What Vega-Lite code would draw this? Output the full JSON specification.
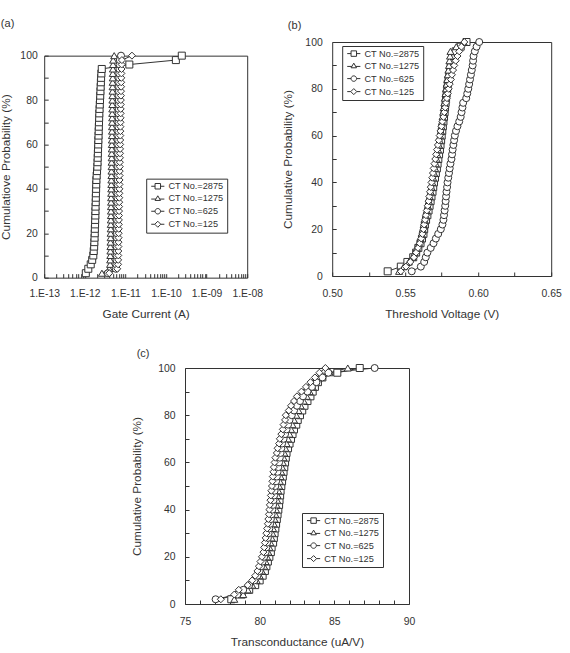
{
"$schema": "https://vega.github.io/schema/vega-lite/v6.json",
"padding": {"left": 0, "top": 17, "right": 0, "bottom": 0},
"background": "white",
"config": {
  "font": "Liberation Sans",
  "view": {"stroke": "#333", "strokeWidth": 1},
  "axis": {"domain": false, "grid": false, "tickColor": "#333", "tickSize": -4, "tickWidth": 1, "labelFontSize": 10.4, "labelColor": "#333", "titleFontSize": 11.8, "titleFontWeight": "normal", "titleColor": "#333", "labelFont": "Liberation Sans", "titleFont": "Liberation Sans", "labelOverlap": false, "labelFlush": false, "labelBound": false},
  "axisX": {"labelPadding": 15, "titlePadding": 9},
  "axisY": {"labelPadding": 11, "titlePadding": 8},
  "title": {"anchor": "start", "frame": "bounds", "fontSize": 11, "fontWeight": "normal", "color": "#333", "font": "Liberation Sans"},
  "legend": {"labelFontSize": 9.2, "labelColor": "#333", "labelFont": "Liberation Sans", "strokeColor": "#333", "fillColor": "white", "padding": 3, "rowPadding": 2, "symbolSize": 30, "symbolStrokeColor": "#333", "symbolStrokeWidth": 1, "symbolOffset": 4, "labelOffset": 6}
},
"datasets": {
"a": [
{"ct":2875,"y":2,"x":1.06e-12},{"ct":2875,"y":4,"x":1.22e-12},{"ct":2875,"y":6,"x":1.40e-12},{"ct":2875,"y":8,"x":1.52e-12},{"ct":2875,"y":10,"x":1.62e-12},{"ct":2875,"y":12,"x":1.66e-12},{"ct":2875,"y":14,"x":1.70e-12},{"ct":2875,"y":16,"x":1.72e-12},{"ct":2875,"y":18,"x":1.74e-12},{"ct":2875,"y":20,"x":1.76e-12},
{"ct":2875,"y":22,"x":1.77e-12},{"ct":2875,"y":24,"x":1.79e-12},{"ct":2875,"y":26,"x":1.80e-12},{"ct":2875,"y":28,"x":1.82e-12},{"ct":2875,"y":30,"x":1.83e-12},{"ct":2875,"y":32,"x":1.84e-12},{"ct":2875,"y":34,"x":1.86e-12},{"ct":2875,"y":36,"x":1.87e-12},{"ct":2875,"y":38,"x":1.88e-12},{"ct":2875,"y":40,"x":1.90e-12},
{"ct":2875,"y":42,"x":1.91e-12},{"ct":2875,"y":44,"x":1.93e-12},{"ct":2875,"y":46,"x":1.96e-12},{"ct":2875,"y":48,"x":2.00e-12},{"ct":2875,"y":50,"x":2.04e-12},{"ct":2875,"y":52,"x":2.06e-12},{"ct":2875,"y":54,"x":2.08e-12},{"ct":2875,"y":56,"x":2.10e-12},{"ct":2875,"y":58,"x":2.12e-12},{"ct":2875,"y":60,"x":2.14e-12},
{"ct":2875,"y":62,"x":2.16e-12},{"ct":2875,"y":64,"x":2.18e-12},{"ct":2875,"y":66,"x":2.20e-12},{"ct":2875,"y":68,"x":2.22e-12},{"ct":2875,"y":70,"x":2.24e-12},{"ct":2875,"y":72,"x":2.26e-12},{"ct":2875,"y":74,"x":2.28e-12},{"ct":2875,"y":76,"x":2.31e-12},{"ct":2875,"y":78,"x":2.34e-12},{"ct":2875,"y":80,"x":2.37e-12},
{"ct":2875,"y":82,"x":2.40e-12},{"ct":2875,"y":84,"x":2.43e-12},{"ct":2875,"y":86,"x":2.46e-12},{"ct":2875,"y":88,"x":2.49e-12},{"ct":2875,"y":90,"x":2.52e-12},{"ct":2875,"y":92,"x":2.56e-12},{"ct":2875,"y":94,"x":2.62e-12},{"ct":2875,"y":96,"x":1.25e-11},{"ct":2875,"y":98,"x":1.75e-10},{"ct":2875,"y":100,"x":2.45e-10},
{"ct":1275,"y":2,"x":2.64e-12},{"ct":1275,"y":4,"x":4.0e-12},{"ct":1275,"y":6,"x":4.20e-12},{"ct":1275,"y":8,"x":4.22e-12},{"ct":1275,"y":10,"x":4.25e-12},{"ct":1275,"y":12,"x":4.27e-12},{"ct":1275,"y":14,"x":4.28e-12},{"ct":1275,"y":16,"x":4.30e-12},{"ct":1275,"y":18,"x":4.32e-12},{"ct":1275,"y":20,"x":4.33e-12},
{"ct":1275,"y":22,"x":4.35e-12},{"ct":1275,"y":24,"x":4.36e-12},{"ct":1275,"y":26,"x":4.38e-12},{"ct":1275,"y":28,"x":4.40e-12},{"ct":1275,"y":30,"x":4.41e-12},{"ct":1275,"y":32,"x":4.42e-12},{"ct":1275,"y":34,"x":4.44e-12},{"ct":1275,"y":36,"x":4.45e-12},{"ct":1275,"y":38,"x":4.47e-12},{"ct":1275,"y":40,"x":4.48e-12},
{"ct":1275,"y":42,"x":4.50e-12},{"ct":1275,"y":44,"x":4.51e-12},{"ct":1275,"y":46,"x":4.53e-12},{"ct":1275,"y":48,"x":4.54e-12},{"ct":1275,"y":50,"x":4.56e-12},{"ct":1275,"y":52,"x":4.57e-12},{"ct":1275,"y":54,"x":4.59e-12},{"ct":1275,"y":56,"x":4.60e-12},{"ct":1275,"y":58,"x":4.62e-12},{"ct":1275,"y":60,"x":4.63e-12},
{"ct":1275,"y":62,"x":4.65e-12},{"ct":1275,"y":64,"x":4.66e-12},{"ct":1275,"y":66,"x":4.68e-12},{"ct":1275,"y":68,"x":4.69e-12},{"ct":1275,"y":70,"x":4.71e-12},{"ct":1275,"y":72,"x":4.72e-12},{"ct":1275,"y":74,"x":4.74e-12},{"ct":1275,"y":76,"x":4.75e-12},{"ct":1275,"y":78,"x":4.77e-12},{"ct":1275,"y":80,"x":4.78e-12},
{"ct":1275,"y":82,"x":4.80e-12},{"ct":1275,"y":84,"x":4.82e-12},{"ct":1275,"y":86,"x":4.84e-12},{"ct":1275,"y":88,"x":4.86e-12},{"ct":1275,"y":90,"x":4.88e-12},{"ct":1275,"y":92,"x":4.90e-12},{"ct":1275,"y":94,"x":4.93e-12},{"ct":1275,"y":96,"x":4.96e-12},{"ct":1275,"y":98,"x":5.00e-12},{"ct":1275,"y":100,"x":5.3e-12},
{"ct":625,"y":2,"x":3.7e-12},{"ct":625,"y":4,"x":5.8e-12},{"ct":625,"y":6,"x":6.00e-12},{"ct":625,"y":8,"x":6.03e-12},{"ct":625,"y":10,"x":6.06e-12},{"ct":625,"y":12,"x":6.08e-12},{"ct":625,"y":14,"x":6.10e-12},{"ct":625,"y":16,"x":6.13e-12},{"ct":625,"y":18,"x":6.15e-12},{"ct":625,"y":20,"x":6.17e-12},
{"ct":625,"y":22,"x":6.20e-12},{"ct":625,"y":24,"x":6.22e-12},{"ct":625,"y":26,"x":6.24e-12},{"ct":625,"y":28,"x":6.27e-12},{"ct":625,"y":30,"x":6.29e-12},{"ct":625,"y":32,"x":6.31e-12},{"ct":625,"y":34,"x":6.34e-12},{"ct":625,"y":36,"x":6.36e-12},{"ct":625,"y":38,"x":6.38e-12},{"ct":625,"y":40,"x":6.41e-12},
{"ct":625,"y":42,"x":6.43e-12},{"ct":625,"y":44,"x":6.45e-12},{"ct":625,"y":46,"x":6.48e-12},{"ct":625,"y":48,"x":6.50e-12},{"ct":625,"y":50,"x":6.52e-12},{"ct":625,"y":52,"x":6.55e-12},{"ct":625,"y":54,"x":6.57e-12},{"ct":625,"y":56,"x":6.59e-12},{"ct":625,"y":58,"x":6.62e-12},{"ct":625,"y":60,"x":6.64e-12},
{"ct":625,"y":62,"x":6.66e-12},{"ct":625,"y":64,"x":6.69e-12},{"ct":625,"y":66,"x":6.71e-12},{"ct":625,"y":68,"x":6.73e-12},{"ct":625,"y":70,"x":6.76e-12},{"ct":625,"y":72,"x":6.78e-12},{"ct":625,"y":74,"x":6.80e-12},{"ct":625,"y":76,"x":6.83e-12},{"ct":625,"y":78,"x":6.85e-12},{"ct":625,"y":80,"x":6.88e-12},
{"ct":625,"y":82,"x":6.91e-12},{"ct":625,"y":84,"x":6.94e-12},{"ct":625,"y":86,"x":6.97e-12},{"ct":625,"y":88,"x":7.00e-12},{"ct":625,"y":90,"x":7.04e-12},{"ct":625,"y":92,"x":7.08e-12},{"ct":625,"y":94,"x":7.13e-12},{"ct":625,"y":96,"x":7.20e-12},{"ct":625,"y":98,"x":7.30e-12},{"ct":625,"y":100,"x":7.8e-12},
{"ct":125,"y":2,"x":4.0e-12},{"ct":125,"y":4,"x":6.3e-12},{"ct":125,"y":6,"x":6.60e-12},{"ct":125,"y":8,"x":6.64e-12},{"ct":125,"y":10,"x":6.68e-12},{"ct":125,"y":12,"x":6.71e-12},{"ct":125,"y":14,"x":6.74e-12},{"ct":125,"y":16,"x":6.77e-12},{"ct":125,"y":18,"x":6.80e-12},{"ct":125,"y":20,"x":6.83e-12},
{"ct":125,"y":22,"x":6.86e-12},{"ct":125,"y":24,"x":6.89e-12},{"ct":125,"y":26,"x":6.92e-12},{"ct":125,"y":28,"x":6.95e-12},{"ct":125,"y":30,"x":6.98e-12},{"ct":125,"y":32,"x":7.01e-12},{"ct":125,"y":34,"x":7.04e-12},{"ct":125,"y":36,"x":7.07e-12},{"ct":125,"y":38,"x":7.10e-12},{"ct":125,"y":40,"x":7.13e-12},
{"ct":125,"y":42,"x":7.16e-12},{"ct":125,"y":44,"x":7.19e-12},{"ct":125,"y":46,"x":7.22e-12},{"ct":125,"y":48,"x":7.25e-12},{"ct":125,"y":50,"x":7.28e-12},{"ct":125,"y":52,"x":7.31e-12},{"ct":125,"y":54,"x":7.34e-12},{"ct":125,"y":56,"x":7.37e-12},{"ct":125,"y":58,"x":7.40e-12},{"ct":125,"y":60,"x":7.43e-12},
{"ct":125,"y":62,"x":7.46e-12},{"ct":125,"y":64,"x":7.49e-12},{"ct":125,"y":66,"x":7.52e-12},{"ct":125,"y":68,"x":7.55e-12},{"ct":125,"y":70,"x":7.58e-12},{"ct":125,"y":72,"x":7.61e-12},{"ct":125,"y":74,"x":7.64e-12},{"ct":125,"y":76,"x":7.67e-12},{"ct":125,"y":78,"x":7.70e-12},{"ct":125,"y":80,"x":7.73e-12},
{"ct":125,"y":82,"x":7.76e-12},{"ct":125,"y":84,"x":7.80e-12},{"ct":125,"y":86,"x":7.84e-12},{"ct":125,"y":88,"x":7.88e-12},{"ct":125,"y":90,"x":7.92e-12},{"ct":125,"y":92,"x":7.97e-12},{"ct":125,"y":94,"x":8.03e-12},{"ct":125,"y":96,"x":8.10e-12},{"ct":125,"y":98,"x":8.20e-12},{"ct":125,"y":100,"x":1.45e-11}
],
"b": [
{"ct":2875,"y":2,"x":0.538},{"ct":2875,"y":4,"x":0.547},{"ct":2875,"y":6,"x":0.5515},{"ct":2875,"y":8,"x":0.5555},{"ct":2875,"y":10,"x":0.5575},{"ct":2875,"y":12,"x":0.559},{"ct":2875,"y":14,"x":0.5605},{"ct":2875,"y":16,"x":0.5615},{"ct":2875,"y":18,"x":0.5625},{"ct":2875,"y":20,"x":0.563},
{"ct":2875,"y":22,"x":0.5635},{"ct":2875,"y":24,"x":0.5643},{"ct":2875,"y":26,"x":0.5652},{"ct":2875,"y":28,"x":0.566},{"ct":2875,"y":30,"x":0.5667},{"ct":2875,"y":32,"x":0.5674},{"ct":2875,"y":34,"x":0.568},{"ct":2875,"y":36,"x":0.5687},{"ct":2875,"y":38,"x":0.5692},{"ct":2875,"y":40,"x":0.5697},
{"ct":2875,"y":42,"x":0.5704},{"ct":2875,"y":44,"x":0.571},{"ct":2875,"y":46,"x":0.5717},{"ct":2875,"y":48,"x":0.5722},{"ct":2875,"y":50,"x":0.5727},{"ct":2875,"y":52,"x":0.5732},{"ct":2875,"y":54,"x":0.5738},{"ct":2875,"y":56,"x":0.5742},{"ct":2875,"y":58,"x":0.5746},{"ct":2875,"y":60,"x":0.575},
{"ct":2875,"y":62,"x":0.5754},{"ct":2875,"y":64,"x":0.5758},{"ct":2875,"y":66,"x":0.5762},{"ct":2875,"y":68,"x":0.5766},{"ct":2875,"y":70,"x":0.577},{"ct":2875,"y":72,"x":0.5773},{"ct":2875,"y":74,"x":0.5777},{"ct":2875,"y":76,"x":0.578},{"ct":2875,"y":78,"x":0.5784},{"ct":2875,"y":80,"x":0.5788},
{"ct":2875,"y":82,"x":0.5792},{"ct":2875,"y":84,"x":0.5797},{"ct":2875,"y":86,"x":0.5802},{"ct":2875,"y":88,"x":0.5807},{"ct":2875,"y":90,"x":0.5812},{"ct":2875,"y":92,"x":0.582},{"ct":2875,"y":94,"x":0.5828},{"ct":2875,"y":96,"x":0.5845},{"ct":2875,"y":98,"x":0.588},{"ct":2875,"y":100,"x":0.592},
{"ct":1275,"y":2,"x":0.5458},{"ct":1275,"y":4,"x":0.549},{"ct":1275,"y":6,"x":0.5525},{"ct":1275,"y":8,"x":0.555},{"ct":1275,"y":10,"x":0.5565},{"ct":1275,"y":12,"x":0.558},{"ct":1275,"y":14,"x":0.5595},{"ct":1275,"y":16,"x":0.5605},{"ct":1275,"y":18,"x":0.5613},{"ct":1275,"y":20,"x":0.562},
{"ct":1275,"y":22,"x":0.5627},{"ct":1275,"y":24,"x":0.5633},{"ct":1275,"y":26,"x":0.564},{"ct":1275,"y":28,"x":0.5648},{"ct":1275,"y":30,"x":0.5655},{"ct":1275,"y":32,"x":0.5662},{"ct":1275,"y":34,"x":0.5668},{"ct":1275,"y":36,"x":0.5675},{"ct":1275,"y":38,"x":0.568},{"ct":1275,"y":40,"x":0.5686},
{"ct":1275,"y":42,"x":0.5692},{"ct":1275,"y":44,"x":0.5698},{"ct":1275,"y":46,"x":0.5705},{"ct":1275,"y":48,"x":0.571},{"ct":1275,"y":50,"x":0.5715},{"ct":1275,"y":52,"x":0.572},{"ct":1275,"y":54,"x":0.5726},{"ct":1275,"y":56,"x":0.5731},{"ct":1275,"y":58,"x":0.5736},{"ct":1275,"y":60,"x":0.574},
{"ct":1275,"y":62,"x":0.5744},{"ct":1275,"y":64,"x":0.5748},{"ct":1275,"y":66,"x":0.5752},{"ct":1275,"y":68,"x":0.5756},{"ct":1275,"y":70,"x":0.576},{"ct":1275,"y":72,"x":0.5764},{"ct":1275,"y":74,"x":0.5768},{"ct":1275,"y":76,"x":0.5772},{"ct":1275,"y":78,"x":0.5776},{"ct":1275,"y":80,"x":0.578},
{"ct":1275,"y":82,"x":0.5784},{"ct":1275,"y":84,"x":0.5788},{"ct":1275,"y":86,"x":0.5792},{"ct":1275,"y":88,"x":0.5796},{"ct":1275,"y":90,"x":0.58},{"ct":1275,"y":92,"x":0.5803},{"ct":1275,"y":94,"x":0.5807},{"ct":1275,"y":96,"x":0.581},{"ct":1275,"y":98,"x":0.585},{"ct":1275,"y":100,"x":0.590},
{"ct":625,"y":2,"x":0.5545},{"ct":625,"y":4,"x":0.5607},{"ct":625,"y":6,"x":0.563},{"ct":625,"y":8,"x":0.5641},{"ct":625,"y":10,"x":0.5652},{"ct":625,"y":12,"x":0.5675},{"ct":625,"y":14,"x":0.5694},{"ct":625,"y":16,"x":0.571},{"ct":625,"y":18,"x":0.5726},{"ct":625,"y":20,"x":0.5744},
{"ct":625,"y":22,"x":0.5755},{"ct":625,"y":24,"x":0.5762},{"ct":625,"y":26,"x":0.5766},{"ct":625,"y":28,"x":0.577},{"ct":625,"y":30,"x":0.5774},{"ct":625,"y":32,"x":0.5777},{"ct":625,"y":34,"x":0.578},{"ct":625,"y":36,"x":0.5783},{"ct":625,"y":38,"x":0.5787},{"ct":625,"y":40,"x":0.579},
{"ct":625,"y":42,"x":0.5795},{"ct":625,"y":44,"x":0.58},{"ct":625,"y":46,"x":0.5805},{"ct":625,"y":48,"x":0.581},{"ct":625,"y":50,"x":0.5817},{"ct":625,"y":52,"x":0.5821},{"ct":625,"y":54,"x":0.5825},{"ct":625,"y":56,"x":0.583},{"ct":625,"y":58,"x":0.5835},{"ct":625,"y":60,"x":0.584},
{"ct":625,"y":62,"x":0.5848},{"ct":625,"y":64,"x":0.5858},{"ct":625,"y":66,"x":0.587},{"ct":625,"y":68,"x":0.588},{"ct":625,"y":70,"x":0.5886},{"ct":625,"y":72,"x":0.5892},{"ct":625,"y":74,"x":0.5897},{"ct":625,"y":76,"x":0.5918},{"ct":625,"y":78,"x":0.5925},{"ct":625,"y":80,"x":0.5932},
{"ct":625,"y":82,"x":0.5938},{"ct":625,"y":84,"x":0.5944},{"ct":625,"y":86,"x":0.595},{"ct":625,"y":88,"x":0.5956},{"ct":625,"y":90,"x":0.5962},{"ct":625,"y":92,"x":0.5965},{"ct":625,"y":94,"x":0.5968},{"ct":625,"y":96,"x":0.5977},{"ct":625,"y":98,"x":0.5989},{"ct":625,"y":100,"x":0.6007},
{"ct":125,"y":2,"x":0.547},{"ct":125,"y":4,"x":0.5505},{"ct":125,"y":6,"x":0.5535},{"ct":125,"y":8,"x":0.556},{"ct":125,"y":10,"x":0.5575},{"ct":125,"y":12,"x":0.5588},{"ct":125,"y":14,"x":0.56},{"ct":125,"y":16,"x":0.561},{"ct":125,"y":18,"x":0.5618},{"ct":125,"y":20,"x":0.5625},
{"ct":125,"y":22,"x":0.563},{"ct":125,"y":24,"x":0.5636},{"ct":125,"y":26,"x":0.5642},{"ct":125,"y":28,"x":0.5648},{"ct":125,"y":30,"x":0.5654},{"ct":125,"y":32,"x":0.566},{"ct":125,"y":34,"x":0.5665},{"ct":125,"y":36,"x":0.567},{"ct":125,"y":38,"x":0.5675},{"ct":125,"y":40,"x":0.568},
{"ct":125,"y":42,"x":0.5685},{"ct":125,"y":44,"x":0.569},{"ct":125,"y":46,"x":0.5695},{"ct":125,"y":48,"x":0.57},{"ct":125,"y":50,"x":0.5706},{"ct":125,"y":52,"x":0.5712},{"ct":125,"y":54,"x":0.5718},{"ct":125,"y":56,"x":0.5724},{"ct":125,"y":58,"x":0.573},{"ct":125,"y":60,"x":0.5736},
{"ct":125,"y":62,"x":0.5742},{"ct":125,"y":64,"x":0.5748},{"ct":125,"y":66,"x":0.5755},{"ct":125,"y":68,"x":0.5762},{"ct":125,"y":70,"x":0.5768},{"ct":125,"y":72,"x":0.5774},{"ct":125,"y":74,"x":0.578},{"ct":125,"y":76,"x":0.5786},{"ct":125,"y":78,"x":0.5792},{"ct":125,"y":80,"x":0.5798},
{"ct":125,"y":82,"x":0.5805},{"ct":125,"y":84,"x":0.5813},{"ct":125,"y":86,"x":0.582},{"ct":125,"y":88,"x":0.5828},{"ct":125,"y":90,"x":0.5836},{"ct":125,"y":92,"x":0.5846},{"ct":125,"y":94,"x":0.5858},{"ct":125,"y":96,"x":0.587},{"ct":125,"y":98,"x":0.5885},{"ct":125,"y":100,"x":0.5905}
],
"c": [
{"ct":2875,"y":2,"x":78.1},{"ct":2875,"y":4,"x":78.8},{"ct":2875,"y":6,"x":79.3},{"ct":2875,"y":8,"x":79.7},{"ct":2875,"y":10,"x":80.0},{"ct":2875,"y":12,"x":80.2},{"ct":2875,"y":14,"x":80.35},{"ct":2875,"y":16,"x":80.45},{"ct":2875,"y":18,"x":80.55},{"ct":2875,"y":20,"x":80.65},
{"ct":2875,"y":22,"x":80.75},{"ct":2875,"y":24,"x":80.8},{"ct":2875,"y":26,"x":80.9},{"ct":2875,"y":28,"x":80.95},{"ct":2875,"y":30,"x":81.0},{"ct":2875,"y":32,"x":81.05},{"ct":2875,"y":34,"x":81.1},{"ct":2875,"y":36,"x":81.15},{"ct":2875,"y":38,"x":81.2},{"ct":2875,"y":40,"x":81.25},
{"ct":2875,"y":42,"x":81.3},{"ct":2875,"y":44,"x":81.33},{"ct":2875,"y":46,"x":81.37},{"ct":2875,"y":48,"x":81.4},{"ct":2875,"y":50,"x":81.45},{"ct":2875,"y":52,"x":81.5},{"ct":2875,"y":54,"x":81.55},{"ct":2875,"y":56,"x":81.6},{"ct":2875,"y":58,"x":81.65},{"ct":2875,"y":60,"x":81.7},
{"ct":2875,"y":62,"x":81.75},{"ct":2875,"y":64,"x":81.8},{"ct":2875,"y":66,"x":81.9},{"ct":2875,"y":68,"x":82.0},{"ct":2875,"y":70,"x":82.1},{"ct":2875,"y":72,"x":82.2},{"ct":2875,"y":74,"x":82.3},{"ct":2875,"y":76,"x":82.45},{"ct":2875,"y":78,"x":82.55},{"ct":2875,"y":80,"x":82.7},
{"ct":2875,"y":82,"x":82.85},{"ct":2875,"y":84,"x":83.0},{"ct":2875,"y":86,"x":83.2},{"ct":2875,"y":88,"x":83.4},{"ct":2875,"y":90,"x":83.55},{"ct":2875,"y":92,"x":83.7},{"ct":2875,"y":94,"x":83.9},{"ct":2875,"y":96,"x":84.2},{"ct":2875,"y":98,"x":85.2},{"ct":2875,"y":100,"x":86.7},
{"ct":1275,"y":2,"x":78.3},{"ct":1275,"y":4,"x":78.9},{"ct":1275,"y":6,"x":79.2},{"ct":1275,"y":8,"x":79.5},{"ct":1275,"y":10,"x":79.8},{"ct":1275,"y":12,"x":80.0},{"ct":1275,"y":14,"x":80.15},{"ct":1275,"y":16,"x":80.3},{"ct":1275,"y":18,"x":80.4},{"ct":1275,"y":20,"x":80.5},
{"ct":1275,"y":22,"x":80.58},{"ct":1275,"y":24,"x":80.65},{"ct":1275,"y":26,"x":80.72},{"ct":1275,"y":28,"x":80.8},{"ct":1275,"y":30,"x":80.85},{"ct":1275,"y":32,"x":80.9},{"ct":1275,"y":34,"x":80.95},{"ct":1275,"y":36,"x":81.0},{"ct":1275,"y":38,"x":81.05},{"ct":1275,"y":40,"x":81.1},
{"ct":1275,"y":42,"x":81.13},{"ct":1275,"y":44,"x":81.17},{"ct":1275,"y":46,"x":81.2},{"ct":1275,"y":48,"x":81.25},{"ct":1275,"y":50,"x":81.3},{"ct":1275,"y":52,"x":81.35},{"ct":1275,"y":54,"x":81.4},{"ct":1275,"y":56,"x":81.45},{"ct":1275,"y":58,"x":81.5},{"ct":1275,"y":60,"x":81.55},
{"ct":1275,"y":62,"x":81.6},{"ct":1275,"y":64,"x":81.65},{"ct":1275,"y":66,"x":81.72},{"ct":1275,"y":68,"x":81.8},{"ct":1275,"y":70,"x":81.9},{"ct":1275,"y":72,"x":82.0},{"ct":1275,"y":74,"x":82.1},{"ct":1275,"y":76,"x":82.2},{"ct":1275,"y":78,"x":82.3},{"ct":1275,"y":80,"x":82.45},
{"ct":1275,"y":82,"x":82.6},{"ct":1275,"y":84,"x":82.75},{"ct":1275,"y":86,"x":82.95},{"ct":1275,"y":88,"x":83.15},{"ct":1275,"y":90,"x":83.35},{"ct":1275,"y":92,"x":83.55},{"ct":1275,"y":94,"x":83.75},{"ct":1275,"y":96,"x":84.0},{"ct":1275,"y":98,"x":84.7},{"ct":1275,"y":100,"x":85.9},
{"ct":625,"y":2,"x":77.05},{"ct":625,"y":4,"x":78.5},{"ct":625,"y":6,"x":78.9},{"ct":625,"y":8,"x":79.3},{"ct":625,"y":10,"x":79.65},{"ct":625,"y":12,"x":79.85},{"ct":625,"y":14,"x":80.0},{"ct":625,"y":16,"x":80.1},{"ct":625,"y":18,"x":80.2},{"ct":625,"y":20,"x":80.3},
{"ct":625,"y":22,"x":80.4},{"ct":625,"y":24,"x":80.45},{"ct":625,"y":26,"x":80.5},{"ct":625,"y":28,"x":80.55},{"ct":625,"y":30,"x":80.6},{"ct":625,"y":32,"x":80.65},{"ct":625,"y":34,"x":80.7},{"ct":625,"y":36,"x":80.75},{"ct":625,"y":38,"x":80.8},{"ct":625,"y":40,"x":80.85},
{"ct":625,"y":42,"x":80.9},{"ct":625,"y":44,"x":80.93},{"ct":625,"y":46,"x":80.97},{"ct":625,"y":48,"x":81.0},{"ct":625,"y":50,"x":81.05},{"ct":625,"y":52,"x":81.1},{"ct":625,"y":54,"x":81.15},{"ct":625,"y":56,"x":81.2},{"ct":625,"y":58,"x":81.25},{"ct":625,"y":60,"x":81.3},
{"ct":625,"y":62,"x":81.35},{"ct":625,"y":64,"x":81.4},{"ct":625,"y":66,"x":81.45},{"ct":625,"y":68,"x":81.5},{"ct":625,"y":70,"x":81.6},{"ct":625,"y":72,"x":81.7},{"ct":625,"y":74,"x":81.8},{"ct":625,"y":76,"x":81.9},{"ct":625,"y":78,"x":82.0},{"ct":625,"y":80,"x":82.15},
{"ct":625,"y":82,"x":82.3},{"ct":625,"y":84,"x":82.5},{"ct":625,"y":86,"x":82.7},{"ct":625,"y":88,"x":82.9},{"ct":625,"y":90,"x":83.2},{"ct":625,"y":92,"x":83.5},{"ct":625,"y":94,"x":83.8},{"ct":625,"y":96,"x":84.2},{"ct":625,"y":98,"x":84.6},{"ct":625,"y":100,"x":87.7},
{"ct":125,"y":2,"x":77.4},{"ct":125,"y":4,"x":78.3},{"ct":125,"y":6,"x":78.6},{"ct":125,"y":8,"x":79.2},{"ct":125,"y":10,"x":79.5},{"ct":125,"y":12,"x":79.7},{"ct":125,"y":14,"x":79.85},{"ct":125,"y":16,"x":79.95},{"ct":125,"y":18,"x":80.05},{"ct":125,"y":20,"x":80.15},
{"ct":125,"y":22,"x":80.25},{"ct":125,"y":24,"x":80.3},{"ct":125,"y":26,"x":80.35},{"ct":125,"y":28,"x":80.4},{"ct":125,"y":30,"x":80.45},{"ct":125,"y":32,"x":80.5},{"ct":125,"y":34,"x":80.55},{"ct":125,"y":36,"x":80.58},{"ct":125,"y":38,"x":80.62},{"ct":125,"y":40,"x":80.65},
{"ct":125,"y":42,"x":80.68},{"ct":125,"y":44,"x":80.72},{"ct":125,"y":46,"x":80.75},{"ct":125,"y":48,"x":80.78},{"ct":125,"y":50,"x":80.82},{"ct":125,"y":52,"x":80.85},{"ct":125,"y":54,"x":80.88},{"ct":125,"y":56,"x":80.92},{"ct":125,"y":58,"x":80.95},{"ct":125,"y":60,"x":81.0},
{"ct":125,"y":62,"x":81.05},{"ct":125,"y":64,"x":81.15},{"ct":125,"y":66,"x":81.2},{"ct":125,"y":68,"x":81.3},{"ct":125,"y":70,"x":81.35},{"ct":125,"y":72,"x":81.45},{"ct":125,"y":74,"x":81.55},{"ct":125,"y":76,"x":81.6},{"ct":125,"y":78,"x":81.7},{"ct":125,"y":80,"x":81.75},
{"ct":125,"y":82,"x":81.95},{"ct":125,"y":84,"x":82.1},{"ct":125,"y":86,"x":82.3},{"ct":125,"y":88,"x":82.5},{"ct":125,"y":90,"x":82.8},{"ct":125,"y":92,"x":83.1},{"ct":125,"y":94,"x":83.4},{"ct":125,"y":96,"x":83.7},{"ct":125,"y":98,"x":84.0},{"ct":125,"y":100,"x":84.4}
]
},
"vconcat": [
 {"hconcat": [
  {
   "title": {"text": "(a)", "offset": 21},
   "width": 203, "height": 222,
   "data": {"name": "a"},
   "resolve": {"scale": {"shape": "independent"}},
   "encoding": {
     "x": {"field": "x", "type": "quantitative", "title": "Gate Current (A)",
       "scale": {"type": "log", "domain": [1e-13, 1e-8], "nice": false},
       "axis": {"values": [1e-13,2e-13,3e-13,4e-13,5e-13,6e-13,7e-13,8e-13,9e-13,1e-12,2e-12,3e-12,4e-12,5e-12,6e-12,7e-12,8e-12,9e-12,1e-11,2e-11,3e-11,4e-11,5e-11,6e-11,7e-11,8e-11,9e-11,1e-10,2e-10,3e-10,4e-10,5e-10,6e-10,7e-10,8e-10,9e-10,1e-9,2e-9,3e-9,4e-9,5e-9,6e-9,7e-9,8e-9,9e-9,1e-8],
         "labelExpr": "abs(log(datum.value)/LN10 - round(log(datum.value)/LN10)) < 0.001 ? '1.E-' + (round(-log(datum.value)/LN10) < 10 ? '0' : '') + round(-log(datum.value)/LN10) : ''"}},
     "y": {"field": "y", "type": "quantitative", "title": "Cumulatiove Probability (%)",
       "scale": {"domain": [0, 100], "nice": false},
       "axis": {"values": [0,10,20,30,40,50,60,70,80,90,100], "labelExpr": "datum.value % 20 == 0 ? datum.label : ''"}}
   },
   "layer": [
     {"mark": {"type": "line", "color": "#333", "strokeWidth": 1}, "encoding": {"detail": {"field": "ct", "type": "nominal"}, "order": {"field": "y", "type": "quantitative"}}},
     {"mark": {"type": "point", "filled": true, "fill": "white", "stroke": "#333", "strokeWidth": 1, "size": 49, "opacity": 1},
      "encoding": {"shape": {"field": "ct", "type": "nominal", "scale": {"domain": [2875,1275,625,125], "range": ["square","triangle-up","circle","diamond"]}, "legend": null}}},
     {"transform": [{"filter": "false"}],
      "mark": {"type": "point", "filled": false, "stroke": "#333", "strokeWidth": 1, "opacity": 1},
      "encoding": {"shape": {"field": "ct", "type": "nominal",
        "scale": {"domain": [2875,1275,625,125], "range": ["M-2.4,0H-1M1,0H2.4M-1,-1H1V1H-1Z", "M-2.4,0.3H-0.7M0.7,0.3H2.4M0,-0.9L1,0.8H-1Z", "M-2.4,0H-1M1,0H2.4M1,0A1,1,0,1,1,-1,0A1,1,0,1,1,1,0Z", "M-2.4,0H-1.1M1.1,0H2.4M0,-1.1L1.1,0L0,1.1L-1.1,0Z"]},
        "legend": {"title": null, "orient": "none", "legendX": 102, "legendY": 123, "labelExpr": "'CT No.=' + datum.label"}}}}
   ]
  },
  {
   "title": {"text": "(b)", "offset": 6, "dx": 5},
   "width": 219, "height": 234,
   "data": {"name": "b"},
   "resolve": {"scale": {"shape": "independent"}, "axis": {"x": "independent"}},
   "encoding": {
     "x": {"field": "x", "type": "quantitative", "title": "Threshold Voltage (V)",
       "scale": {"domain": [0.5, 0.65], "nice": false},
       "axis": {"values": [0.5,0.525,0.55,0.575,0.6,0.625,0.65], "labelPadding": 16, "titlePadding": 10, "labelExpr": "round(datum.value*1000) % 50 == 0 ? format(datum.value, '.2f') : ''"}},
     "y": {"field": "y", "type": "quantitative", "title": "Cumulative Probability (%)",
       "scale": {"domain": [0, 100], "nice": false},
       "axis": {"values": [0,10,20,30,40,50,60,70,80,90,100], "labelPadding": 14, "titlePadding": 11, "labelExpr": "datum.value % 20 == 0 ? datum.label : ''"}}
   },
   "layer": [
     {"mark": {"type": "line", "color": "#333", "strokeWidth": 1}, "encoding": {"detail": {"field": "ct", "type": "nominal"}, "order": {"field": "y", "type": "quantitative"}}},
     {"mark": {"type": "point", "filled": true, "fill": "white", "stroke": "#333", "strokeWidth": 1, "size": 49, "opacity": 1},
      "encoding": {"x": {"field": "x", "type": "quantitative", "scale": {"domain": [0.5, 0.65], "nice": false}, "axis": null},
        "shape": {"field": "ct", "type": "nominal", "scale": {"domain": [2875,1275,625,125], "range": ["square","triangle-up","circle","diamond"]}, "legend": null}}},
     {"transform": [{"filter": "false"}],
      "mark": {"type": "point", "filled": false, "stroke": "#333", "strokeWidth": 1, "opacity": 1},
      "encoding": {"x": {"field": "x", "type": "quantitative", "scale": {"domain": [0.5, 0.65], "nice": false},
          "axis": {"orient": "bottom", "labels": false, "domain": false, "ticks": true, "tickSize": 57, "tickColor": "transparent", "values": [0.6], "title": null}},
        "shape": {"field": "ct", "type": "nominal",
        "scale": {"domain": [2875,1275,625,125], "range": ["M-2.4,0H-1M1,0H2.4M-1,-1H1V1H-1Z", "M-2.4,0.3H-0.7M0.7,0.3H2.4M0,-0.9L1,0.8H-1Z", "M-2.4,0H-1M1,0H2.4M1,0A1,1,0,1,1,-1,0A1,1,0,1,1,1,0Z", "M-2.4,0H-1.1M1.1,0H2.4M0,-1.1L1.1,0L0,1.1L-1.1,0Z"]},
        "legend": {"title": null, "orient": "none", "legendX": 10, "legendY": 4, "labelExpr": "'CT No.=' + datum.label"}}}}
   ]
  }
 ], "center": true, "spacing": 19},
 {
   "title": {"text": "(c)", "offset": 4, "dx": 5},
   "width": 224, "height": 236,
   "data": {"name": "c"},
   "resolve": {"scale": {"shape": "independent"}, "axis": {"y": "independent"}},
   "encoding": {
     "x": {"field": "x", "type": "quantitative", "title": "Transconductance (uA/V)",
       "scale": {"domain": [75, 90], "nice": false},
       "axis": {"values": [75,76,77,78,79,80,81,82,83,84,85,86,87,88,89,90], "labelPadding": 16, "titlePadding": 10, "labelExpr": "datum.value % 5 == 0 ? datum.label : ''"}},
     "y": {"field": "y", "type": "quantitative", "title": "Cumulative Probability (%)",
       "scale": {"domain": [0, 100], "nice": false},
       "axis": {"values": [0,10,20,30,40,50,60,70,80,90,100], "labelPadding": 14, "titlePadding": 15, "labelExpr": "datum.value % 20 == 0 ? datum.label : ''"}}
   },
   "layer": [
     {"mark": {"type": "line", "color": "#333", "strokeWidth": 1}, "encoding": {"detail": {"field": "ct", "type": "nominal"}, "order": {"field": "y", "type": "quantitative"}}},
     {"mark": {"type": "point", "filled": true, "fill": "white", "stroke": "#333", "strokeWidth": 1, "size": 49, "opacity": 1},
      "encoding": {"y": {"field": "y", "type": "quantitative", "scale": {"domain": [0, 100], "nice": false}, "axis": null},
        "shape": {"field": "ct", "type": "nominal", "scale": {"domain": [2875,1275,625,125], "range": ["square","triangle-up","circle","diamond"]}, "legend": null}}},
     {"transform": [{"filter": "false"}],
      "mark": {"type": "point", "filled": false, "stroke": "#333", "strokeWidth": 1, "opacity": 1},
      "encoding": {"y": {"field": "y", "type": "quantitative", "scale": {"domain": [0, 100], "nice": false},
          "axis": {"orient": "right", "labels": false, "domain": false, "ticks": true, "tickSize": 11, "tickColor": "transparent", "values": [50], "title": null}},
        "shape": {"field": "ct", "type": "nominal",
        "scale": {"domain": [2875,1275,625,125], "range": ["M-2.4,0H-1M1,0H2.4M-1,-1H1V1H-1Z", "M-2.4,0.3H-0.7M0.7,0.3H2.4M0,-0.9L1,0.8H-1Z", "M-2.4,0H-1M1,0H2.4M1,0A1,1,0,1,1,-1,0A1,1,0,1,1,1,0Z", "M-2.4,0H-1.1M1.1,0H2.4M0,-1.1L1.1,0L0,1.1L-1.1,0Z"]},
        "legend": {"title": null, "orient": "none", "legendX": 117, "legendY": 145, "labelExpr": "'CT No.=' + datum.label"}}}}
   ]
 }
],
"spacing": 13,
"center": true
}
